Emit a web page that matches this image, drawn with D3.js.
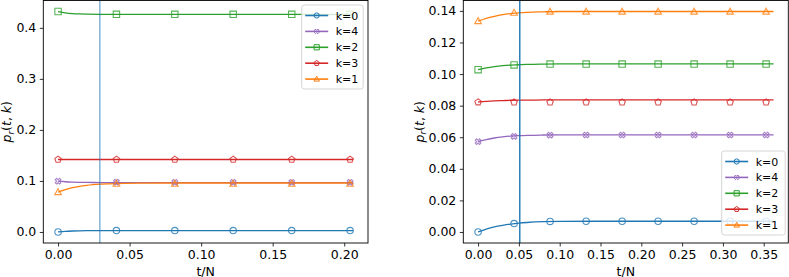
<!DOCTYPE html>
<html>
<head>
<meta charset="utf-8">
<script src="https://cdn.jsdelivr.net/npm/d3@7"></script>
<style>
  body { margin: 0; background: #fff; }
  text { font-family: "DejaVu Sans", sans-serif; }
</style>
</head>
<body>
<div id="chart"></div>
<script>
// series order as in the legend
const keys = ["k=0", "k=4", "k=2", "k=3", "k=1"];
const colors = ["#1f77b4", "#9467bd", "#2ca02c", "#d62728", "#ff7f0e"];
const shapes = ["circle", "x", "square", "pentagon", "triangle"];

// ---- left panel
const leftMarkT = [0, 0.0408, 0.0816, 0.1224, 0.1633, 0.2041];
const leftMark = [
  [0, 0.0027, 0.0027, 0.0027, 0.0027, 0.0027],
  [0.0995, 0.0975, 0.0972, 0.0972, 0.0972, 0.0972],
  [0.432, 0.4265, 0.4265, 0.4265, 0.4265, 0.4265],
  [0.142, 0.142, 0.142, 0.142, 0.142, 0.142],
  [0.078, 0.0945, 0.0945, 0.0945, 0.0945, 0.0945]
];
const leftCurveT = [0, 0.005, 0.01, 0.015, 0.02, 0.03, 0.04, 0.06, 0.08, 0.12, 0.16, 0.2063];
const leftCurve = [
  [0, 0.0012, 0.0019, 0.0023, 0.0025, 0.0027, 0.0027, 0.0027, 0.0027, 0.0027, 0.0027, 0.0027],
  [0.0995, 0.0984, 0.0977, 0.0973, 0.0971, 0.0969, 0.0968, 0.0968, 0.0968, 0.0968, 0.0968, 0.0968],
  [0.432, 0.4295, 0.428, 0.4272, 0.4268, 0.4265, 0.4265, 0.4265, 0.4265, 0.4265, 0.4265, 0.4265],
  [0.142, 0.142, 0.142, 0.142, 0.142, 0.142, 0.142, 0.142, 0.142, 0.142, 0.142, 0.142],
  [0.078, 0.083, 0.0868, 0.0895, 0.0914, 0.0937, 0.0949, 0.0957, 0.096, 0.096, 0.096, 0.096]
];
const leftXTicks = [0, 0.05, 0.10, 0.15, 0.20];
const leftYTicks = [0.0, 0.1, 0.2, 0.3, 0.4];
const leftVline = 0.0292;

// ---- right panel
const rightMarkT = [0, 0.0441, 0.0882, 0.1324, 0.1765, 0.2206, 0.2647, 0.3088, 0.3529];
const rightMark = [
  [0, 0.0053, 0.0067, 0.0068, 0.0068, 0.0068, 0.0068, 0.0068, 0.0068],
  [0.0572, 0.0605, 0.0613, 0.0614, 0.0614, 0.0614, 0.0614, 0.0614, 0.0614],
  [0.1028, 0.1058, 0.1063, 0.1063, 0.1063, 0.1063, 0.1063, 0.1063, 0.1063],
  [0.0822, 0.0821, 0.0821, 0.0821, 0.0821, 0.0821, 0.0821, 0.0821, 0.0821],
  [0.1335, 0.1388, 0.1395, 0.1395, 0.1395, 0.1395, 0.1395, 0.1395, 0.1395]
];
const rightCurveT = [0, 0.01, 0.02, 0.03, 0.04, 0.05, 0.06, 0.08, 0.1, 0.15, 0.2, 0.3, 0.362];
const rightCurve = [
  [0, 0.0018, 0.0032, 0.0042, 0.005, 0.0056, 0.006, 0.0065, 0.0067, 0.0068, 0.0068, 0.0068, 0.0068],
  [0.0572, 0.0585, 0.0595, 0.0602, 0.0607, 0.061, 0.0612, 0.0614, 0.0615, 0.0615, 0.0615, 0.0615, 0.0615],
  [0.1028, 0.1039, 0.1047, 0.1053, 0.1057, 0.1059, 0.1061, 0.1063, 0.1064, 0.1064, 0.1064, 0.1064, 0.1064],
  [0.0823, 0.0827, 0.083, 0.0832, 0.0834, 0.0835, 0.0835, 0.0836, 0.0836, 0.0836, 0.0836, 0.0836, 0.0836],
  [0.1335, 0.1353, 0.1366, 0.1376, 0.1383, 0.1388, 0.1391, 0.1394, 0.1396, 0.1396, 0.1396, 0.1396, 0.1396]
];
const rightXTicks = [0, 0.05, 0.10, 0.15, 0.20, 0.25, 0.30, 0.35];
const rightYTicks = [0.00, 0.02, 0.04, 0.06, 0.08, 0.10, 0.12, 0.14];
const rightVline = 0.0511;

const W = 789, H = 277;
const svg = d3.select("#chart").append("svg").attr("width", W).attr("height", H);

function markerPath(shape, r) {
  if (shape === "circle") {
    return d3.symbol(d3.symbolCircle, Math.PI * r * r)();
  }
  if (shape === "square") {
    return `M${-r},${-r}H${r}V${r}H${-r}Z`;
  }
  if (shape === "triangle") {
    const h = r * 1.1;
    return `M0,${-h}L${h * 0.95},${h * 0.7}L${-h * 0.95},${h * 0.7}Z`;
  }
  if (shape === "pentagon") {
    let p = [];
    for (let i = 0; i < 5; i++) {
      const a = -Math.PI / 2 + i * 2 * Math.PI / 5;
      p.push([r * 1.05 * Math.cos(a), r * 1.05 * Math.sin(a)]);
    }
    return "M" + p.map(d => d.join(",")).join("L") + "Z";
  }
  // matplotlib "X": a cross turned by 45 degrees, outline only
  const a = r * 0.3, b = r * 0.95;
  const pts = [[-a, -b], [a, -b], [a, -a], [b, -a], [b, a], [a, a], [a, b], [-a, b], [-a, a], [-b, a], [-b, -a], [-a, -a]];
  const c = Math.SQRT1_2;
  return "M" + pts.map(([px, py]) => [(px - py) * c, (px + py) * c].join(",")).join("L") + "Z";
}

function panel(opt) {
  const x0 = opt.left, x1 = opt.right, y0 = 0.5, y1 = 243;
  const tMax = d3.max(opt.curveT);
  const allY = opt.curve.flat().concat(opt.mark.flat());
  const yMin = d3.min(allY), yMax = d3.max(allY);
  const x = d3.scaleLinear().domain([-0.05 * tMax, 1.05 * tMax]).range([x0, x1]);
  const yr = yMax - yMin;
  const y = d3.scaleLinear().domain([yMin - 0.05 * yr, yMax + 0.05 * yr]).range([y1, y0]);

  const g = svg.append("g");

  // axes
  const xAxis = g.append("g").attr("transform", `translate(0,${y1})`)
    .call(d3.axisBottom(x).tickValues(opt.xTicks).tickFormat(d3.format(".2f")).tickSizeOuter(0).tickSize(3.5).tickPadding(3.5));
  const yAxis = g.append("g").attr("transform", `translate(${x0},0)`)
    .call(d3.axisLeft(y).tickValues(opt.yTicks).tickFormat(d3.format(opt.yFmt)).tickSizeOuter(0).tickSize(3.5).tickPadding(3.5));
  [xAxis, yAxis].forEach(a => {
    a.select(".domain").remove();
    a.selectAll("text").attr("font-size", 12.5).attr("fill", "#000").style("font-family", "DejaVu Sans");
    a.selectAll("line").attr("stroke", "#000").attr("stroke-width", 0.8);
  });

  const clip = "clip" + opt.id;
  svg.append("clipPath").attr("id", clip).append("rect")
    .attr("x", x0).attr("y", y0).attr("width", x1 - x0).attr("height", y1 - y0);
  const plot = g.append("g").attr("clip-path", `url(#${clip})`);

  const line = d3.line().x(d => x(d[0])).y(d => y(d[1])).curve(d3.curveMonotoneX);

  keys.forEach((k, i) => {
    const cur = opt.curveT.map((t, j) => [t, opt.curve[i][j]]);
    plot.append("path").attr("d", line(cur))
      .attr("fill", "none").attr("stroke", colors[i]).attr("stroke-width", 1.3);
  });
  keys.forEach((k, i) => {
    const pts = opt.markT.map((t, j) => [t, opt.mark[i][j]]);
    plot.selectAll(null).data(pts).join("path")
      .attr("transform", d => `translate(${x(d[0])},${y(d[1])})`)
      .attr("d", markerPath(shapes[i], 3.2))
      .attr("fill", "none").attr("stroke", colors[i]).attr("stroke-width", 1.1).attr("stroke-opacity", 0.8);
  });

  // vertical marker line
  g.append("line").attr("x1", x(opt.vline)).attr("x2", x(opt.vline)).attr("y1", y0).attr("y2", y1)
    .attr("stroke", "#1f77b4").attr("stroke-width", 1.4).attr("stroke-opacity", opt.vAlpha);

  // frame
  g.append("rect").attr("x", x0).attr("y", y0).attr("width", x1 - x0).attr("height", y1 - y0)
    .attr("fill", "none").attr("stroke", "#000").attr("stroke-width", 0.9);

  // labels
  g.append("text").attr("x", (x0 + x1) / 2).attr("y", 275.5).attr("text-anchor", "middle")
    .attr("font-size", 12.5).text("t/N");
  const yl = g.append("text").attr("transform", `translate(${opt.ylabX},${(y0 + y1) / 2}) rotate(-90)`)
    .attr("text-anchor", "middle").attr("font-size", 12.5);
  yl.append("tspan").attr("font-style", "italic").text("p");
  yl.append("tspan").attr("font-style", "italic").attr("font-size", 9).attr("dy", 2.5).text("r");
  yl.append("tspan").attr("dy", -2.5).text("(");
  yl.append("tspan").attr("font-style", "italic").text("t");
  yl.append("tspan").text(", ");
  yl.append("tspan").attr("font-style", "italic").text("k");
  yl.append("tspan").text(")");

  // legend
  const lg = g.append("g").attr("transform", `translate(${opt.legX},${opt.legY})`);
  lg.append("rect").attr("width", opt.legW).attr("height", 84).attr("rx", 2.5)
    .attr("fill", "#fff").attr("fill-opacity", 0.8).attr("stroke", "#d0d0d0").attr("stroke-width", 0.9);
  keys.forEach((k, i) => {
    const yy = 10.5 + i * 15.9;
    lg.append("line").attr("x1", 3.5).attr("x2", 26.5).attr("y1", yy).attr("y2", yy)
      .attr("stroke", colors[i]).attr("stroke-width", 1.6);
    lg.append("path").attr("transform", `translate(15,${yy})`).attr("d", markerPath(shapes[i], 2.6))
      .attr("fill", "none").attr("stroke", colors[i]).attr("stroke-width", 1);
    lg.append("text").attr("x", 34).attr("y", yy + 4).attr("font-size", 11).text(k);
  });
}

panel({
  id: "L", left: 43.3, right: 368, markT: leftMarkT, mark: leftMark, curveT: leftCurveT, curve: leftCurve,
  xTicks: leftXTicks, yTicks: leftYTicks, yFmt: ".1f", vline: leftVline, vAlpha: 0.6,
  ylabX: 11, legX: 301.7, legY: 5, legW: 61.5
});
panel({
  id: "R", left: 463.3, right: 788.3, markT: rightMarkT, mark: rightMark, curveT: rightCurveT, curve: rightCurve,
  xTicks: rightXTicks, yTicks: rightYTicks, yFmt: ".2f", vline: rightVline, vAlpha: 1,
  ylabX: 423.5, legX: 721.7, legY: 151, legW: 63.5
});
</script>
</body>
</html>
